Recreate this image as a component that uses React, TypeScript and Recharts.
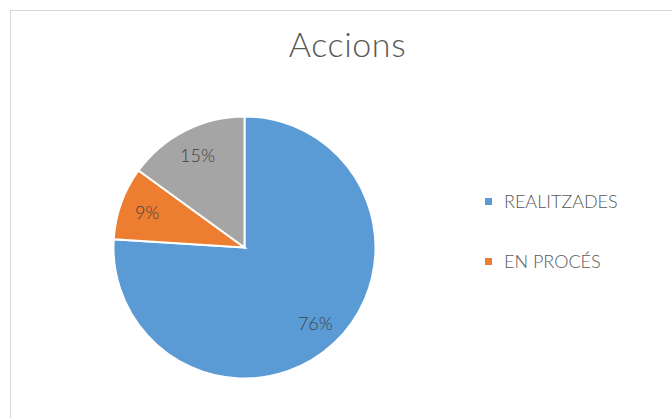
import React from "react";
import { PieChart, Pie, Cell, Legend } from "recharts";

const categories = ["REALITZADES", "EN PROCÉS", ""];
const values = [76, 9, 15];
const colors = ["#5B9BD5", "#ED7D31", "#A5A5A5"];

const data = categories.map((name, i) => ({ name, value: values[i] }));

const FONT = "Lato, 'DejaVu Sans', sans-serif";
const RADIAN = Math.PI / 180;

const renderLabel = (props: any) => {
  const { cx, cy, midAngle, outerRadius, percent } = props;
  const r = outerRadius * 0.79;
  const x = cx + r * Math.cos(-midAngle * RADIAN);
  const y = cy + r * Math.sin(-midAngle * RADIAN);
  return (
    <text
      x={x}
      y={y}
      fill="#404040"
      fontSize={18}
      fontWeight={300}
      fontFamily={FONT}
      textAnchor="middle"
      dominantBaseline="central"
    >
      {`${Math.round(percent * 100)}%`}
    </text>
  );
};

const renderLegend = (props: any) => {
  // keep the sheet's order, skip the unnamed slice
  const items = (props.payload || [])
    .filter((p: any) => p.value)
    .sort(
      (a: any, b: any) =>
        categories.indexOf(a.value) - categories.indexOf(b.value)
    );
  return (
    <div style={{ fontFamily: FONT }}>
      {items.map((p: any) => (
        <div
          key={p.value}
          style={{ display: "flex", alignItems: "center", height: 60 }}
        >
          <span
            style={{
              width: 7,
              height: 7,
              background: p.color,
              marginRight: 12,
              display: "inline-block",
            }}
          />
          <span style={{ fontSize: 18, fontWeight: 300, color: "#595959" }}>
            {p.value}
          </span>
        </div>
      ))}
    </div>
  );
};

const App = () => {
  return (
    <div
      style={{
        position: "absolute",
        left: 0,
        top: 0,
        width: 672,
        height: 418,
        overflow: "hidden",
        background: "#fff",
      }}
    >
      <div
        style={{
          position: "absolute",
          left: 10,
          top: 10,
          width: 700,
          height: 450,
          border: "1px solid #D9D9D9",
        }}
      />
      <div
        style={{
          position: "absolute",
          left: 10,
          top: 23,
          width: 675,
          textAlign: "center",
          fontFamily: FONT,
          fontSize: 34,
          fontWeight: 300,
          color: "#595959",
          letterSpacing: 0.6,
        }}
      >
        Accions
      </div>
      <PieChart
        width={672}
        height={418}
        margin={{ top: 0, right: 0, bottom: 0, left: 0 }}
      >
        <Pie
          data={data}
          dataKey="value"
          nameKey="name"
          cx={244.5}
          cy={247.5}
          outerRadius={131}
          startAngle={90}
          endAngle={-270}
          stroke="#fff"
          strokeWidth={2}
          label={renderLabel}
          labelLine={false}
          isAnimationActive={false}
        >
          {data.map((d, i) => (
            <Cell key={i} fill={colors[i]} />
          ))}
        </Pie>
        <Legend
          layout="vertical"
          content={renderLegend}
          wrapperStyle={{ position: "absolute", left: 485, top: 171, width: 180 }}
        />
      </PieChart>
    </div>
  );
};

export default App;
